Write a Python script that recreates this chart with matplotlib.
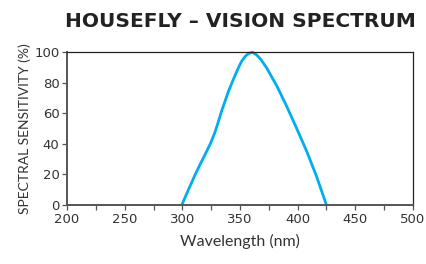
import matplotlib.pyplot as plt

wavelength = [299.5, 305, 311, 316, 321, 324.5, 328, 331, 334, 340, 346, 349, 351.5, 355, 358, 361,
              364.5, 368, 373, 382, 390.5, 399, 408, 416.5, 425]
sensitivity = [0, 9.5, 19.7, 27.5, 35, 40.5, 47, 54, 61.4, 74.5, 85.5, 90.5, 94.3, 97.8, 99.5, 100,
               98.3, 95.5, 90, 78, 64.7, 50.5, 35, 18.6, 0]

x_ticks = [200, 250, 300, 350, 400, 450, 500]
y_ticks = [0, 20, 40, 60, 80, 100]

FONT = ['DejaVu Sans']
GREY = '#333333'

fig = plt.figure(figsize=(4.27, 2.64), dpi=100)
ax = fig.add_axes([0.157, 0.2235, 0.81, 0.578])

ax.plot(wavelength, sensitivity, color='#00aeef', linewidth=2.0, solid_capstyle='butt',
        solid_joinstyle='round', clip_on=False)

ax.set_xlim(200, 500)
ax.set_ylim(0, 100)
ax.set_xticks(x_ticks)
ax.set_xticks(range(225, 500, 50), minor=True)
ax.set_yticks(y_ticks)

for side in ['left', 'bottom']:
    ax.spines[side].set_color('#555555')
    ax.spines[side].set_linewidth(1.4)
for side in ['top', 'right']:
    ax.spines[side].set_color('#222222')
    ax.spines[side].set_linewidth(0.9)

ax.tick_params(which='both', direction='out', length=3.5, width=0.9, color='#555555')
ax.tick_params(axis='both', labelsize=9.5, labelcolor=GREY, pad=2)
for lab in ax.get_xticklabels() + ax.get_yticklabels():
    lab.set_family(FONT)

ax.set_xlabel('Wavelength (nm)', fontsize=11.5, color=GREY, family=['Lato'], labelpad=6)
ax.set_ylabel('SPECTRAL SENSITIVITY (%)', fontsize=10, color=GREY, family=['Lato'], labelpad=2)

fig.text(0.562, 0.918, 'HOUSEFLY \u2013 VISION SPECTRUM', ha='center', va='center',
         fontsize=14.5, fontweight='heavy', color='#222222', family=['DejaVu Sans'])

plt.savefig('out.png', dpi=100)
